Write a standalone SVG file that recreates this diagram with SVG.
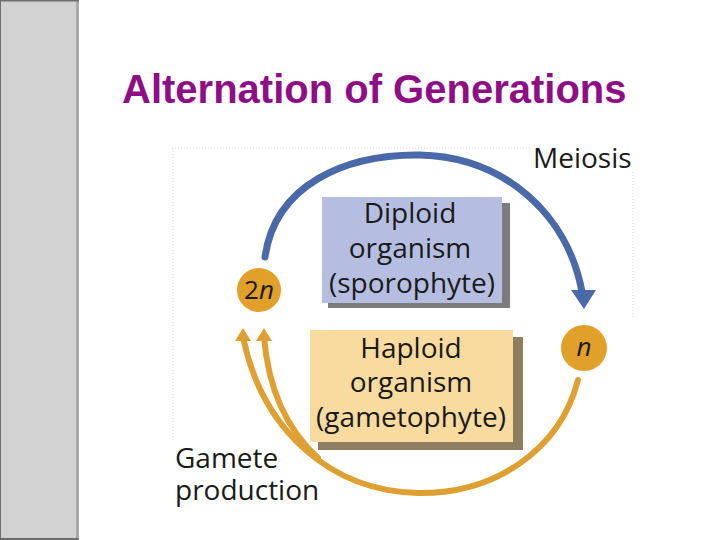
<svg xmlns="http://www.w3.org/2000/svg" width="720" height="540" viewBox="0 0 720 540">
<style>
.lbl{font-family:"Open Sans","Noto Sans","Liberation Sans",sans-serif;font-size:28px;fill:#1a1a1a}
.mid{text-anchor:middle}
.title{font-family:"Liberation Sans",Arial,sans-serif;font-weight:bold;font-size:40px;fill:#8E0E86}
.orange{fill:none;stroke:#DEA032;stroke-width:6;stroke-linecap:round}
.blue{fill:none;stroke:#4A69A8;stroke-width:7;stroke-linecap:round}
.dot{fill:none;stroke:#d8d8d8;stroke-width:1;stroke-dasharray:1 2}
.circ{fill:#E1A02A}
</style>
<rect x="0" y="0" width="79" height="540" fill="#d2d2d2"/>
<rect x="76" y="0" width="3" height="540" fill="#a9a9a9"/>
<rect x="0" y="0" width="79" height="1.5" fill="#6e6e6e"/>
<rect x="0" y="0" width="1" height="540" fill="#6e6e6e"/>
<rect x="0" y="538" width="79" height="2" fill="#6e6e6e"/>
<text class="title" x="122" y="103">Alternation of Generations</text>
<g id="frame">
<path class="dot" d="M172 148 H530 M173 148 V440 M633 172 V318"/>
</g>
<g id="connectors">
<path class="blue" d="M265 257 C275 185,345 154,420 155 C505 157,568 215,582 292"/>
<polygon points="571,290 596,290 584,309" fill="#4A69A8"/>
<path class="orange" d="M578 380 C560 450,495 494,418 493 C330 491,262 430,243 337"/>
<path class="orange" d="M318 458 C285 428,268 385,264 337"/>
<polygon points="235,341 251,341 243,328" fill="#DEA032"/>
<polygon points="256,341 272,341 264,328" fill="#DEA032"/>
</g>
<g id="diploid">
<rect x="328" y="203" width="182" height="105" fill="#7c7c7c"/>
<rect x="322" y="197" width="180" height="106" fill="#B5BEE0"/>
<text class="lbl mid" x="410" y="223">Diploid</text>
<text class="lbl mid" x="410" y="258">organism</text>
<text class="lbl mid" x="412" y="293">(sporophyte)</text>
</g>
<g id="haploid">
<rect x="318" y="337" width="205" height="113" fill="#8E7E60"/>
<rect x="310" y="330" width="203" height="112" fill="#FADB9F"/>
<text class="lbl mid" x="411" y="358">Haploid</text>
<text class="lbl mid" x="411" y="392">organism</text>
<text class="lbl mid" x="411" y="427">(gametophyte)</text>
</g>
<g id="n2">
<circle class="circ" cx="259" cy="290" r="22"/>
<text class="lbl mid" x="259" y="299" style="font-size:26px">2<tspan font-style="italic">n</tspan></text>
</g>
<g id="n1">
<circle class="circ" cx="584" cy="348" r="23"/>
<text class="lbl mid" x="584" y="356" style="font-size:26px;font-style:italic">n</text>
</g>
<g id="meiosis">
<text class="lbl" x="533" y="168">Meiosis</text>
</g>
<g id="gamete">
<text class="lbl" x="175" y="468">Gamete</text>
<text class="lbl" x="175" y="500">production</text>
</g>
</svg>
